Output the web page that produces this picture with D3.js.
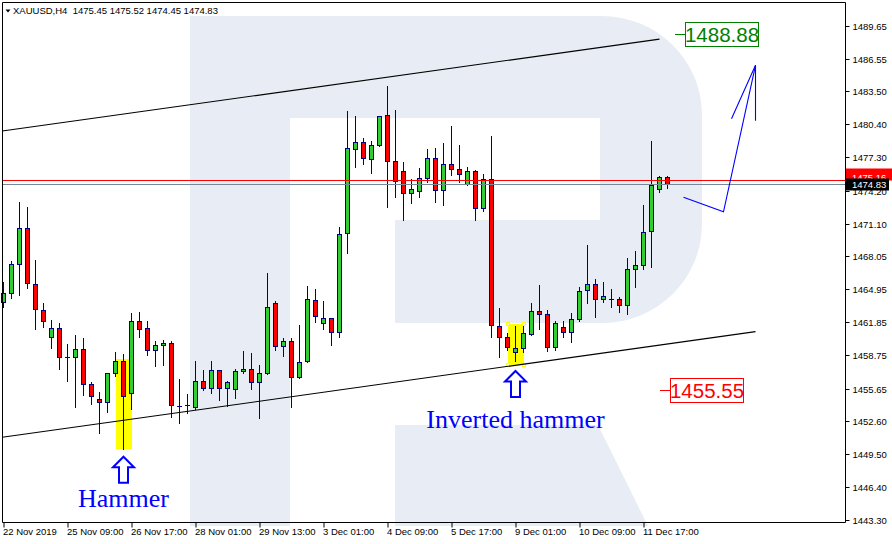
<!DOCTYPE html>
<html><head><meta charset="utf-8">
<script src="https://cdn.jsdelivr.net/npm/d3@7"></script>
<style>html,body{margin:0;padding:0;background:#fff;overflow:hidden}</style>
</head><body>
<svg id="c" width="892" height="544" xmlns="http://www.w3.org/2000/svg"></svg>
<script>
// ---------- DATA ----------
const symbol = "XAUUSD,H4";
const openP = [1463.76,1464.57,1467.29,1470.66,1465.42,1462.98,1460.45,1461.29,1458.58,1458.58,
1459.32,1456.05,1454.64,1454.36,1457.08,1458.20,1455.20,1461.95,1461.29,1459.23,
1459.70,1459.89,1454.01,1454.08,1453.89,1456.33,1455.67,1457.36,1455.67,1455.58,
1457.26,1457.45,1456.23,1457.08,1463.64,1459.61,1460.07,1456.70,1458.20,1463.92,
1461.76,1462.23,1460.92,1470.20,1478.07,1478.72,1477.13,1478.44,1481.25,1476.94,
1476.01,1473.94,1474.13,1475.35,1477.22,1474.23,1476.66,1476.19,1474.79,1476.01,
1472.54,1475.26,1461.48,1460.45,1459.04,1459.42,1460.73,1462.89,1462.60,1459.51,
1461.39,1460.92,1462.14,1464.85,1465.42,1464.01,1464.02,1464.01,1463.45,1466.82,
1467.20,1470.38,1474.32,1475.45];
const highP = [1465.63,1467.60,1473.13,1472.66,1467.69,1463.64,1462.07,1461.76,1459.85,1460.67,
1460.36,1456.29,1455.32,1457.15,1459.04,1458.86,1462.70,1462.79,1461.95,1460.07,
1460.20,1460.07,1456.51,1455.14,1458.23,1457.38,1458.23,1457.40,1456.35,1457.51,
1459.19,1458.95,1457.83,1466.48,1463.85,1460.36,1460.36,1461.57,1465.26,1464.95,
1463.82,1462.30,1470.81,1481.66,1481.19,1479.10,1478.82,1481.20,1484.00,1481.75,
1476.85,1475.26,1476.29,1478.07,1478.16,1478.63,1480.22,1478.44,1476.38,1476.10,
1475.72,1479.29,1463.17,1460.82,1461.48,1461.67,1463.64,1465.32,1462.98,1461.95,
1461.95,1462.70,1465.14,1469.07,1465.88,1465.60,1464.95,1464.20,1467.85,1468.51,
1472.82,1478.85,1475.54,1475.52];
const lowP = [1463.32,1464.16,1464.44,1465.10,1461.26,1461.44,1459.47,1457.51,1456.38,1453.95,
1455.01,1454.23,1451.51,1453.48,1456.80,1449.98,1453.76,1460.45,1458.82,1457.79,
1457.88,1453.01,1452.45,1453.36,1453.73,1455.51,1455.26,1454.60,1454.04,1454.79,
1457.13,1455.63,1452.91,1457.00,1459.23,1458.73,1453.89,1456.61,1458.10,1461.86,
1461.20,1459.70,1460.51,1468.32,1476.38,1476.66,1475.82,1478.40,1472.63,1473.57,
1471.41,1473.01,1473.63,1475.03,1473.10,1472.82,1475.63,1474.97,1474.70,1471.41,
1472.26,1460.45,1458.58,1459.26,1458.20,1459.04,1460.70,1461.20,1459.14,1459.23,
1460.45,1459.98,1461.95,1463.64,1462.32,1463.73,1463.26,1462.79,1462.60,1465.14,
1466.82,1467.07,1474.04,1474.45];
const closeP = [1464.60,1467.29,1470.66,1465.51,1463.07,1461.95,1461.29,1458.58,1458.62,1459.32,
1456.05,1454.92,1454.36,1457.08,1458.20,1454.92,1461.95,1461.20,1459.23,1459.70,
1459.92,1454.08,1454.05,1454.12,1456.33,1455.67,1457.36,1455.67,1456.23,1457.26,
1457.45,1456.23,1457.08,1463.26,1459.61,1460.07,1456.70,1458.11,1464.01,1462.42,
1462.23,1460.92,1470.10,1478.16,1478.72,1477.22,1478.44,1481.16,1476.97,1475.07,
1473.94,1474.32,1475.35,1477.22,1474.23,1476.66,1476.19,1475.72,1476.01,1472.54,
1475.26,1461.57,1460.45,1459.51,1459.42,1460.82,1462.89,1462.60,1459.51,1461.76,
1460.92,1462.14,1464.76,1465.42,1464.01,1464.29,1464.00,1463.45,1466.82,1467.20,
1470.29,1474.69,1475.44,1474.83];

const timeTickIndex = [0,8,16,24,32,40,48,56,64,72,80];
const timeLabels = ["22 Nov 2019","25 Nov 09:00","26 Nov 17:00","28 Nov 01:00","29 Nov 13:00",
  "3 Dec 01:00","4 Dec 09:00","5 Dec 17:00","9 Dec 01:00","10 Dec 09:00","11 Dec 17:00"];
const priceTicks = [1489.65,1486.55,1483.50,1480.40,1477.30,1474.20,1471.10,1468.05,
  1464.95,1461.85,1458.75,1455.65,1452.60,1449.50,1446.40,1443.30];

const bidPrice = 1474.83, askPrice = 1475.16;
const upperChannel = [[-0.16,1479.78],[82,1488.39]];
const lowerChannel = [[-0.16,1451.08],[94,1460.98]];
const forecastPath = [[85,1473.58],[90,1472.21],[94,1485.94]];
const forecastHead = [[91,1480.93],[94,1485.94],[94,1480.74]];
const targetLevels = [{value:1488.88, at:84, color:"#008000"},{value:1455.55, at:82, color:"#ff0000"}];
const patternBoxes = [{from:14,to:16,top:1458.39,bottom:1449.95,handles:false},
                      {from:63,to:65,top:1461.70,bottom:1457.85,handles:true}];
const patternArrows = [{at:15, tip:1449.26, label:"Hammer", labelAt:1444.57},
                       {at:64, tip:1457.29, label:"Inverted hammer", labelAt:1451.98}];

// ---------- CHART ----------
const svg = d3.select("#c");
const L = 2, R = 845, T = 2, B = 522;
const x = d3.scaleLinear().domain([0,83]).range([3.5,667.5]);
const y = d3.scaleLinear().domain([1443.30,1489.65]).range([520.3,25.7]);
const py = v => Math.round(y(v)) + 0.5;
const font = "'Liberation Sans', Arial, sans-serif";

svg.append("rect").attr("width",892).attr("height",544).attr("fill","#fff");

// watermark
const wm = svg.append("g").attr("fill","#e8edf5");
wm.append("path").attr("d","M190,16 H602 A100,99 0 0 1 702,115 V224 A100,99 0 0 1 603,323 H395 V220 H600 V118 H290 V526 H190 Z");
wm.append("path").attr("d","M395,425 H598 L648,526 H395 Z");

// pattern highlight boxes
patternBoxes.forEach(b=>{
  const x0 = Math.round(x(b.from)), x1 = Math.round(x(b.to));
  const y0 = Math.round(y(b.top)), y1 = Math.round(y(b.bottom));
  svg.append("rect").attr("x",x0).attr("y",y0).attr("width",x1-x0).attr("height",y1-y0).attr("fill","#ffff00");
});

const candles = d3.range(openP.length).map(i=>({i,o:openP[i],h:highP[i],l:lowP[i],c:closeP[i]}));
const cg = svg.append("g");
candles.forEach(d=>{
  const cx = x(d.i);
  cg.append("line").attr("x1",cx).attr("x2",cx).attr("y1",Math.round(y(d.h))).attr("y2",Math.round(y(d.l))+1)
    .attr("stroke","#000080").attr("stroke-width",1);
  const top = Math.round(y(Math.max(d.o,d.c))), bot = Math.round(y(Math.min(d.o,d.c)));
  if (bot - top < 1) {
    cg.append("line").attr("x1",cx-2.5).attr("x2",cx+2.5).attr("y1",top+0.5).attr("y2",top+0.5)
      .attr("stroke","#000080").attr("stroke-width",1);
  } else {
    cg.append("rect").attr("x",cx-2).attr("y",top+0.5).attr("width",4).attr("height",bot-top)
      .attr("fill", d.c>d.o ? "#32cd32" : "#ff0000").attr("stroke","#000080").attr("stroke-width",1);
  }
});

// handles on selected box
patternBoxes.filter(b=>b.handles).forEach(b=>{
  const x0 = Math.round(x(b.from)), x1 = Math.round(x(b.to));
  const y0 = Math.round(y(b.top)), y1 = Math.round(y(b.bottom));
  [[x0,y0],[x1,y0],[x0,y1],[x1,y1]].forEach(p=>{
    svg.append("rect").attr("x",p[0]-1.5).attr("y",p[1]-1.5).attr("width",3).attr("height",3)
      .attr("fill","#fff").attr("stroke","#ffff00").attr("stroke-width",1);
  });
});

// channel lines
const line = d3.line().x(d=>x(d[0])).y(d=>y(d[1]));
[upperChannel, lowerChannel].forEach(c=>{
  svg.append("path").attr("d",line(c)).attr("fill","none").attr("stroke","#000").attr("stroke-width",1.1);
});

// ask / bid lines
svg.append("line").attr("x1",L).attr("x2",R).attr("y1",py(askPrice)).attr("y2",py(askPrice)).attr("stroke","#ff0000");
svg.append("line").attr("x1",L).attr("x2",R).attr("y1",py(bidPrice)).attr("y2",py(bidPrice)).attr("stroke","#778899");

// forecast
svg.append("path").attr("d",line(forecastPath)).attr("fill","none").attr("stroke","#0000ff").attr("stroke-width",1.1);
svg.append("path").attr("d",line(forecastHead)).attr("fill","none").attr("stroke","#0000ff").attr("stroke-width",1.1);

// target level labels
targetLevels.forEach(t=>{
  const lx = Math.round(x(t.at)), ly = py(t.value);
  svg.append("line").attr("x1",lx).attr("x2",lx+10).attr("y1",ly).attr("y2",ly).attr("stroke",t.color);
  svg.append("rect").attr("x",lx+10.5).attr("y",ly-12).attr("width",73).attr("height",24)
    .attr("fill","#fff").attr("stroke",t.color).attr("stroke-width",1);
  svg.append("text").attr("x",lx+47).attr("y",ly+7.5).attr("text-anchor","middle")
    .attr("font-family",font).attr("font-size",20.5).attr("fill",t.color).text(t.value.toFixed(2));
});

// pattern arrows and names
patternArrows.forEach(a=>{
  const ax = x(a.at), ay = y(a.tip);
  const pts = [[0,0],[10.5,10.5],[4.5,10.5],[4.5,26],[-4.5,26],[-4.5,10.5],[-10.5,10.5]];
  svg.append("path").attr("d","M"+pts.map(p=>(ax+p[0])+","+(ay+p[1])).join("L")+"Z")
    .attr("fill","#fff").attr("stroke","#0000ff").attr("stroke-width",2);
  svg.append("text").attr("x",ax).attr("y",y(a.labelAt)).attr("text-anchor","middle")
    .attr("font-family","'Liberation Serif','Times New Roman',serif").attr("font-size",26)
    .attr("fill","#0000ff").text(a.label);
});

// frame
svg.append("path").attr("d",`M${L+0.5},${B+0.5} V${T+0.5} H${R+0.5} V${B+0.5} Z`)
  .attr("fill","none").attr("stroke","#000").attr("stroke-width",1);

// right axis
const yAxis = d3.axisRight(y).tickValues(priceTicks).tickSize(4).tickPadding(3).tickFormat(d=>d.toFixed(2));
const ya = svg.append("g").attr("transform",`translate(${R+0.5},0)`).call(yAxis);
ya.select(".domain").remove();
ya.selectAll(".tick").attr("transform",d=>`translate(0,${py(d)})`);
ya.selectAll("text").attr("font-family",font).attr("font-size",9.5).attr("fill","#000");
ya.selectAll("line").attr("stroke","#000");

// bottom axis
const xAxis = d3.axisBottom(x).tickValues(timeTickIndex).tickSize(5)
  .tickFormat((d,k)=>timeLabels[k]);
const xa = svg.append("g").attr("transform",`translate(0,${B+0.5})`).call(xAxis);
xa.select(".domain").remove();
xa.selectAll("text").attr("text-anchor","start").attr("x",-1).attr("y",6).attr("dy","0.71em")
  .attr("font-family",font).attr("font-size",9.5).attr("fill","#000");
xa.selectAll("line").attr("stroke","#000");

// price labels on axis (ask label mostly covered by the bid label, as in the terminal)
svg.append("rect").attr("x",846).attr("y",py(askPrice)-12).attr("width",46).attr("height",12).attr("fill","#ff0000");
svg.append("text").attr("x",852).attr("y",py(askPrice)+0.5).attr("font-family",font).attr("font-size",9.5)
  .attr("fill","#fff").text(askPrice.toFixed(2));
svg.append("rect").attr("x",846).attr("y",py(bidPrice)-6).attr("width",43).attr("height",12).attr("fill","#000");
svg.append("text").attr("x",852).attr("y",py(bidPrice)+3.5).attr("font-family",font).attr("font-size",9.5)
  .attr("fill","#fff").text(bidPrice.toFixed(2));

// header
const last = openP.length-1;
svg.append("rect").attr("x",3).attr("y",3).attr("width",216).attr("height",12).attr("fill","#fff");
svg.append("path").attr("d","M5.5,9.5 L10.5,9.5 L8,12.5 Z").attr("fill","#000");
svg.append("text").attr("x",13).attr("y",14).attr("font-family",font).attr("font-size",9.5)
  .attr("fill","#000").style("white-space","pre")
  .text(`${symbol}  ${openP[last].toFixed(2)} ${highP[last].toFixed(2)} ${lowP[last].toFixed(2)} ${closeP[last].toFixed(2)}`);
</script>
</body></html>
